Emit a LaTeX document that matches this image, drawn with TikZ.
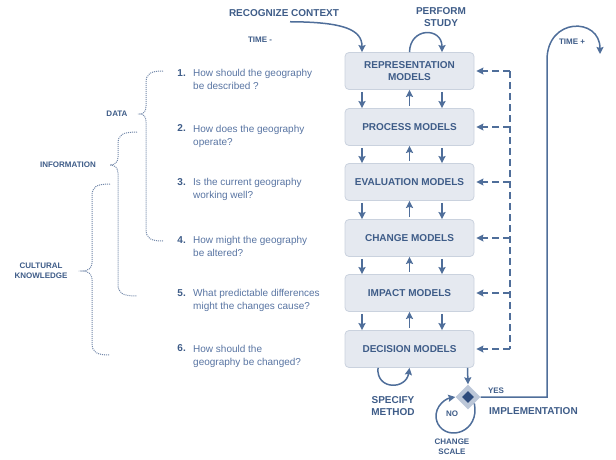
\documentclass[tikz,border=0pt]{standalone}
\usepackage{fontspec}
\setmainfont{Liberation Sans}
\usepackage{tikz}
\usetikzlibrary{arrows.meta,positioning,calc,shapes.geometric}
\definecolor{slate}{HTML}{3E5C88}
\definecolor{steel}{HTML}{4F6E9A}
\definecolor{qblue}{HTML}{5874A2}
\definecolor{boxfill}{HTML}{E5E9F0}
\definecolor{boxline}{HTML}{CAD2DE}
\definecolor{dotcol}{HTML}{7086A8}
\definecolor{dianavy}{HTML}{2D4B7C}
\definecolor{dialight}{HTML}{BCC7D8}
\tikzset{
  >={Stealth[length=7pt,width=7pt,inset=1pt]},
  % modell-rutor
  mbox/.style={rectangle,rounded corners=4pt,draw=boxline,fill=boxfill,line width=0.8pt,
               minimum width=129pt,minimum height=37pt,align=center,text=slate,
               font=\fontsize{10}{12.5}\selectfont\bfseries},
  flow/.style={->,draw=steel,line width=1.5pt},
  fbk/.style={->,draw=steel,line width=1.3pt,dash pattern=on 7pt off 4pt},
  lbl/.style={text=slate,font=\fontsize{10}{12}\selectfont\bfseries,align=center,inner sep=1pt},
  slbl/.style={text=slate,font=\fontsize{8}{10}\selectfont\bfseries,align=center,inner sep=1pt},
  % frågor
  qtxt/.style={anchor=west,text=qblue,font=\fontsize{10}{13}\selectfont,align=left,inner sep=0pt},
  qnum/.style={anchor=north east,text=slate,font=\fontsize{10}{13}\selectfont\bfseries,inner sep=0pt},
  brace/.style={draw=dotcol,line width=1pt,dash pattern=on 1pt off 1pt},
}
\begin{document}
\begin{tikzpicture}[x=1pt,y=-1pt]
\useasboundingbox (0,0) rectangle (616,459);
  % models
  \node[mbox] (rep) at (409.5,71) {REPRESENTATION\\MODELS};
  \node[mbox] (proc) at (409.5,127) {PROCESS MODELS};
  \node[mbox] (eval) at (409.5,182) {EVALUATION MODELS};
  \node[mbox] (chg) at (409.5,238) {CHANGE MODELS};
  \node[mbox] (imp) at (409.5,293) {IMPACT MODELS};
  \node[mbox] (dec) at (409.5,349) {DECISION MODELS};
  \foreach \a/\b in {rep/proc,proc/eval,eval/chg,chg/imp,imp/dec}{
    \draw[flow,shorten <=2pt] ([xshift=-47.5pt]\a.south) -- ([xshift=-47.5pt]\b.north);
    \draw[flow,shorten <=2pt] (\b.north) -- (\a.south);
    \draw[flow,shorten <=2pt] ([xshift=32.5pt]\a.south) -- ([xshift=32.5pt]\b.north);
  }
  % feedback
  \coordinate (fbtop) at (510,71);
  \coordinate (fbbot) at (510,349);
  \draw[fbk,-] (fbtop) -- (fbbot);
  \foreach \m in {rep,proc,eval,chg,imp,dec}
    \draw[fbk,shorten >=2pt] (\m.east -| fbtop) -- (\m.east);
  % top
  \node[lbl] (rc) at (284,13) {RECOGNIZE CONTEXT};
  \node[slbl] (tminus) at (260,40) {TIME -};
  \node[lbl] (ps) at (441,17) {PERFORM\\STUDY};
  \draw[flow] ($(rc.south)+(6,4)$) .. controls (345,22) and (362,30) .. ([xshift=-47.5pt]rep.north);
  \draw[flow] (rep.north) .. controls (410,27) and (442,27) .. ([xshift=32.5pt]rep.north);
  % decision
  \node[diamond,fill=dialight,minimum size=25pt,inner sep=0pt] (dia) at (468,397) {};
  \node[diamond,fill=dianavy,minimum size=12pt,inner sep=0pt] (diain) at (dia) {};
  \draw[flow] ([xshift=58pt]dec.south) -- (dia.north);
  \draw[flow] ([xshift=-31.5pt]dec.south) .. controls (376,390) and (406,390) .. (dec.south);
  \node[lbl] (sm) at (393,406) {SPECIFY\\METHOD};
  \draw[flow] (dia.south east) .. controls (480,432) and (448,442) .. (438,424)
    .. controls (431,410) and (444,399) .. (dia.west);
  \node[slbl] (no) at (452,414) {NO};
  \node[slbl] (cs) at (452,447) {CHANGE\\SCALE};
  \node[slbl] (yes) at (496,391) {YES};
  \node[lbl,anchor=west] (impl) at (488,411) {IMPLEMENTATION};
  \coordinate (tplus) at (600,54);
  \draw[flow] (dia.east) -- (547,397) -- (547,60) .. controls (547,17) and (600,17) .. (tplus);
  \node[slbl] (tp) at (572,42) {TIME +};
  % questions
  \node[qtxt] (q1) at (193,79.5) {How should the geography\\be described ?};
  \node[qtxt] (q2) at (193,136) {How does the geography\\operate?};
  \node[qtxt] (q3) at (193,189.5) {Is the current geography\\working well?};
  \node[qtxt] (q4) at (193,246.5) {How might the geography\\be altered?};
  \node[qtxt] (q5) at (193,300.5) {What predictable differences\\might the changes cause?};
  \node[qtxt] (q6) at (193,356) {How should the\\geography be changed?};
  \foreach \i in {1,...,6}
    \node[qnum] (n\i) at ([xshift=-7pt]q\i.north west) {\i.};
  % braces
  \draw[brace] (163,71) .. controls (150,71) and (146,74) .. (146,83) -- (146,106)
    .. controls (146,111) and (144,114) .. (140,114) .. controls (144,114) and (146,117) .. (146,122)
    -- (146,229) .. controls (146,238) and (150,241) .. (163,241);
  \draw[brace] (137,132) .. controls (122,132) and (118,135) .. (118,144) -- (118,157)
    .. controls (118,162) and (115,165) .. (110,165) .. controls (115,165) and (118,168) .. (118,173)
    -- (118,284) .. controls (118,293) and (122,296) .. (137,296);
  \draw[brace] (110,184) .. controls (96,184) and (92,187) .. (92,196) -- (92,263)
    .. controls (92,268) and (88,271) .. (82,271) .. controls (88,271) and (92,274) .. (92,279)
    -- (92,343) .. controls (92,352) and (96,355) .. (110,355);
  \node[slbl] (data) at (117,114) {DATA};
  \node[slbl] (info) at (68,165) {INFORMATION};
  \node[slbl] (cult) at (41,271) {CULTURAL\\KNOWLEDGE};
\end{tikzpicture}
\end{document}
